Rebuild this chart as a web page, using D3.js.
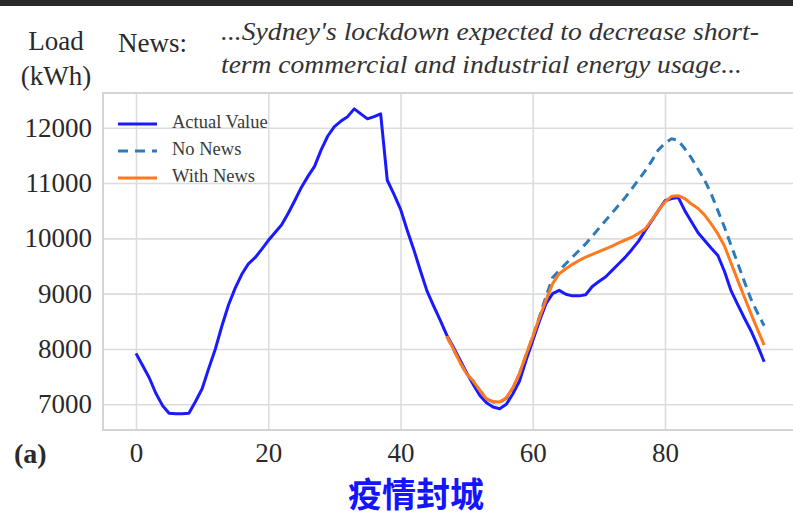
<!DOCTYPE html>
<html>
<head>
<meta charset="utf-8">
<script src="https://cdn.jsdelivr.net/npm/d3@7"></script>
<style>
  body { margin: 0; background: #fff; }
  svg { display: block; }
</style>
</head>
<body>
<div id="chart"></div>
<script>
// 15-min steps, 0..95
var actual = [7920, 7700, 7480, 7200, 6980, 6840, 6830, 6830, 6840, 7050,
  7280, 7650, 8000, 8420, 8800, 9100, 9350, 9540, 9650, 9800,
  9960, 10100, 10240, 10450, 10680, 10920, 11120, 11300, 11600, 11850,
  12020, 12120, 12200, 12340, 12250, 12160, 12200, 12250, 11050, 10800,
  10530, 10150, 9800, 9420, 9050, 8780, 8520, 8250, 8030, 7800,
  7570, 7360, 7160, 7030, 6950, 6920, 7000, 7190, 7420, 7800,
  8150, 8500, 8820, 9000, 9060, 8990, 8960, 8960, 8980, 9130,
  9220, 9300, 9420, 9540, 9660, 9800, 9950, 10140, 10320, 10500,
  10680, 10720, 10740, 10500, 10300, 10100, 9960, 9820, 9690, 9400,
  9050, 8800, 8560, 8330, 8060, 7770];

// forecasts start at step 47
var forecastStart = 47;
var noNews = [8230, 8000, 7760, 7550, 7420, 7250, 7100, 7040, 7030, 7110,
  7290, 7550, 7890, 8220, 8580, 8950, 9290, 9420, 9540, 9660,
  9780, 9900, 10040, 10180, 10320, 10460, 10600, 10740, 10900, 11060,
  11220, 11400, 11600, 11720, 11800, 11770, 11620, 11450, 11250, 11050,
  10800, 10500, 10200, 9870, 9550, 9220, 8900, 8650, 8420];
var withNews = [8230, 8000, 7760, 7550, 7420, 7250, 7100, 7050, 7040, 7120,
  7300, 7560, 7900, 8220, 8560, 8880, 9180, 9360, 9450, 9530,
  9600, 9660, 9710, 9760, 9810, 9860, 9920, 9970, 10020, 10090,
  10170, 10330, 10500, 10660, 10760, 10770, 10720, 10620, 10540, 10420,
  10260, 10080, 9860, 9550, 9240, 8940, 8640, 8350, 8070];

var xTicks = [0, 20, 40, 60, 80];
var yTicks = [7000, 8000, 9000, 10000, 11000, 12000];
var legendNames = ["Actual Value", "No News", "With News"];
var newsLines = ["...Sydney's lockdown expected to decrease short-",
  "term commercial and industrial energy usage..."];

const width = 793, height = 516;
const plotLeft = 103, plotRight = 800, plotTop = 93, plotBottom = 430;
var serif = "'Liberation Serif', 'Times New Roman', serif";

var svg = d3.select("#chart").append("svg")
  .attr("width", width)
  .attr("height", height);

// dark strip at the very top of the screenshot
svg.append("rect")
  .attr("x", 0).attr("y", 0)
  .attr("width", width).attr("height", 6)
  .attr("fill", "#2a2a2a");

var x = d3.scaleLinear()
  .domain([0, 80])
  .range([136, 665]);

var y = d3.scaleLinear()
  .domain([7000, 12000])
  .range([404.3, 127.7]);

/* grid + axes */
var gx = svg.append("g")
  .attr("transform", `translate(0, ${plotBottom})`)
  .call(d3.axisBottom(x).tickValues(xTicks).tickSize(-(plotBottom - plotTop)).tickPadding(13));

var gy = svg.append("g")
  .attr("transform", `translate(${plotLeft}, 0)`)
  .call(d3.axisLeft(y).tickValues(yTicks).tickFormat(d3.format("d"))
    .tickSize(-(plotRight - plotLeft)).tickPadding(11));

[gx, gy].forEach(function(g) {
  g.select(".domain").remove();
  g.selectAll(".tick line").attr("stroke", "#dcdcdc").attr("stroke-width", 1.6);
  g.selectAll(".tick text")
    .attr("fill", "#2a2a2a")
    .style("font-family", serif)
    .style("font-size", "27px");
});

// frame
svg.append("path")
  .attr("d", `M${plotRight},${plotTop}H${plotLeft}V${plotBottom}H${plotRight}`)
  .attr("fill", "none")
  .attr("stroke", "#d4d4d4")
  .attr("stroke-width", 2);

/* lines */
var line = d3.line()
  .x(d => x(d[0]))
  .y(d => y(d[1]));

var actualPts = actual.map((v, i) => [i, v]);
var noNewsPts = noNews.map((v, i) => [i + forecastStart, v]);
var withNewsPts = withNews.map((v, i) => [i + forecastStart, v]);

svg.append("path")
  .attr("d", line(actualPts))
  .attr("fill", "none")
  .attr("stroke", "#1a1aff")
  .attr("stroke-width", 3)
  .attr("stroke-linejoin", "round");

svg.append("path")
  .attr("d", line(noNewsPts))
  .attr("fill", "none")
  .attr("stroke", "#2f7bb8")
  .attr("stroke-width", 3)
  .attr("stroke-dasharray", "9,6");

svg.append("path")
  .attr("d", line(withNewsPts))
  .attr("fill", "none")
  .attr("stroke", "#ff7a1e")
  .attr("stroke-width", 3)
  .attr("stroke-linejoin", "round");

/* legend */
var legendColors = ["#1a1aff", "#2f7bb8", "#ff7a1e"];
var legendDash = [null, "10,7", null];
var legend = svg.append("g");
legendNames.forEach(function(name, i) {
  var ly = 124 + i * 27;
  legend.append("line")
    .attr("x1", 118).attr("x2", 157)
    .attr("y1", ly).attr("y2", ly)
    .attr("stroke", legendColors[i])
    .attr("stroke-width", 3)
    .attr("stroke-dasharray", legendDash[i]);
  legend.append("text")
    .attr("x", 172).attr("y", ly + 4)
    .attr("fill", "#3a3a3a")
    .style("font-family", serif)
    .style("font-size", "18.5px")
    .text(name);
});

/* header texts */
svg.append("text")
  .attr("x", 56).attr("y", 50)
  .attr("text-anchor", "middle")
  .attr("fill", "#2a2a2a")
  .style("font-family", serif).style("font-size", "27px")
  .text("Load");
svg.append("text")
  .attr("x", 56).attr("y", 85)
  .attr("text-anchor", "middle")
  .attr("fill", "#2a2a2a")
  .style("font-family", serif).style("font-size", "27px")
  .text("(kWh)");
svg.append("text")
  .attr("x", 118).attr("y", 52)
  .attr("fill", "#2a2a2a")
  .style("font-family", serif).style("font-size", "27px")
  .text("News:");

var newsWidths = [538, 521];
newsLines.forEach(function(t, i) {
  svg.append("text")
    .attr("x", 221).attr("y", 40 + i * 33)
    .attr("fill", "#333")
    .attr("textLength", newsWidths[i])
    .attr("lengthAdjust", "spacingAndGlyphs")
    .style("font-family", serif)
    .style("font-style", "italic")
    .style("font-size", "25px")
    .text(t);
});

svg.append("text")
  .attr("x", 14).attr("y", 463)
  .attr("fill", "#2a2a2a")
  .style("font-family", serif).style("font-size", "28px").style("font-weight", "bold")
  .text("(a)");

svg.append("text")
  .attr("x", 416).attr("y", 507)
  .attr("text-anchor", "middle")
  .attr("fill", "#1414ff")
  .style("font-family", "'Noto Sans CJK SC', sans-serif")
  .style("font-size", "34px").style("font-weight", "bold")
  .text("疫情封城");
</script>
</body>
</html>
